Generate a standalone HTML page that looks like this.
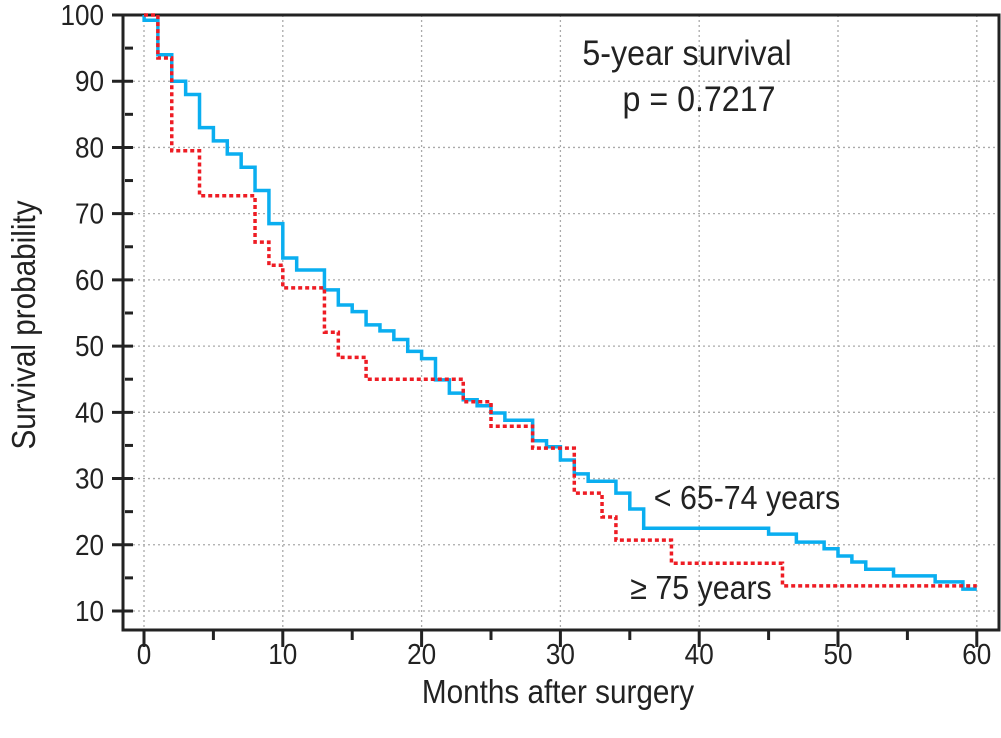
<!DOCTYPE html>
<html><head><meta charset="utf-8"><style>
html,body{margin:0;padding:0;background:#fff;}
svg{display:block;font-family:"Liberation Sans",sans-serif;}
</style></head><body>
<svg id="chart" width="1001" height="738" viewBox="0 0 1001 738">
<g id="grid"></g><g id="axes"></g><g id="series"></g><g id="labels"></g>
</svg>
<script>
const xTicks=[0,10,20,30,40,50,60];
const yTicks=[10,20,30,40,50,60,70,80,90,100];
const blueT=[0,0.01,1,2,3,4,5,6,7,8,9,10,11,13,14,15,16,17,18,19,20,21,22,23,24,25,26,28,29,30,31,32,34,35,36,45,47,49,50,51,52,54,57,59,60];
const blueS=[100,99.2,94,90,88,83,81,79,77,73.5,68.5,63.3,61.5,58.5,56.2,55.2,53.2,52.3,51,49.2,48.1,44.9,42.9,41.9,41,39.9,38.8,35.7,34.8,32.8,30.7,29.6,27.8,25.4,22.5,21.6,20.4,19.4,18.3,17.4,16.3,15.3,14.4,13.3,13.3];
const redT=[0,1,2,4,8,9,10,13,14,16,23,25,28,31,33,34,38,46,60];
const redS=[100,93.5,79.5,72.7,65.7,62.2,58.8,52.1,48.3,45,41.6,37.9,34.6,27.8,24.2,20.7,17.2,13.8,13.8];
const X=m=>144+m*13.88, Y=v=>15+(100-v)*6.622;
const NS='http://www.w3.org/2000/svg';
function mk(tag,attrs,parent){const e=document.createElementNS(NS,tag);for(const k in attrs)e.setAttribute(k,attrs[k]);document.getElementById(parent).appendChild(e);return e;}
xTicks.forEach(t=>{
 const g=mk('line',{x1:X(t),x2:X(t),y1:15,y2:630,stroke:'#aaa','stroke-width':1.3,'stroke-dasharray':'2,3'},'grid');
 
 
 const tk=mk('line',{x1:X(t),x2:X(t),y1:630,y2:647,stroke:'#222','stroke-width':3},'axes');
 
 
 const lb=mk('text',{x:X(t),y:664,'font-size':29,'text-anchor':'middle',fill:'#222',transform:`translate(${X(t)},0) scale(0.9,1) translate(${-X(t)},0)`},'labels');
 lb.textContent=t;
 
 
});
xTicks.slice(0,-1).forEach(t=>{
 const tk=mk('line',{x1:X(t+5),x2:X(t+5),y1:630,y2:640,stroke:'#222','stroke-width':3},'axes');
 
 
});
yTicks.forEach(t=>{
 if(t<100){const g=mk('line',{x1:123,x2:999,y1:Y(t),y2:Y(t),stroke:'#aaa','stroke-width':1.3,'stroke-dasharray':'2,3'},'grid');
 
 }
 const tk=mk('line',{x1:112,x2:133,y1:Y(t),y2:Y(t),stroke:'#222','stroke-width':3},'axes');
 
 
 const lb=mk('text',{x:104,y:Y(t)+10,'font-size':29,'text-anchor':'end',fill:'#222',transform:`translate(104,0) scale(0.9,1) translate(-104,0)`},'labels');
 lb.textContent=t;
 
 
 if(t<100){const m=mk('line',{x1:125,x2:133,y1:Y(t+5),y2:Y(t+5),stroke:'#222','stroke-width':3},'axes');
 
 }
});
const ax=mk('path',{d:'M123,15 V630 H999 V15 H112',fill:'none',stroke:'#222','stroke-width':3},'axes');


function step(T,S){let d=`M${X(T[0])},${Y(S[0])}`;for(let i=1;i<T.length;i++){d+=` H${X(T[i])} V${Y(S[i])}`;}return d;}
const b=mk('path',{d:step(blueT,blueS),fill:'none',stroke:'#0aaef0','stroke-width':3.5},'series');


const r=mk('path',{d:step(redT,redS),fill:'none',stroke:'#ee1c24','stroke-width':3.5,'stroke-dasharray':'4,3'},'series');


function txt(s,x,y,size,name,sx,anchor,rot){const t=mk('text',{x:x,y:y,'font-size':size,'text-anchor':anchor||'middle',fill:'#222',transform:rot||`translate(${x},0) scale(${sx},1) translate(${-x},0)`},'labels');t.textContent=s;

return t;}
txt('5-year survival',687,65,35,'annotation-title',0.92);
txt('p = 0.7217',699,111,35,'annotation-p-value',0.92);
txt('< 65-74 years',747,509,33,'label-under-75',0.92);
txt('≥ 75 years',701,599,33,'label-75-plus',0.92);
txt('Months after surgery',558,703,33,'x-axis-title',0.9);
txt('Survival probability',0,0,33,'y-axis-title',1,'middle','translate(35,325) rotate(-90) scale(0.9,1)');
</script>
</body></html>
